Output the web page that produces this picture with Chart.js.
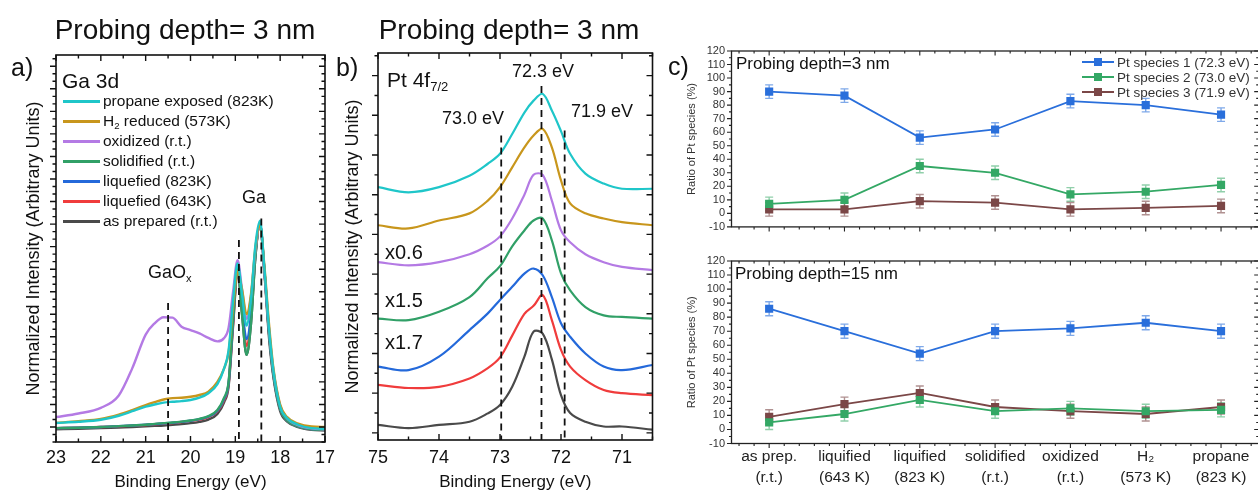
<!DOCTYPE html>
<html>
<head>
<meta charset="utf-8">
<script src="https://cdn.jsdelivr.net/npm/chart.js@4.4.1/dist/chart.umd.min.js"></script>
<style>
html, body { margin: 0; padding: 0; background: #fff; overflow: hidden; width: 1258px; height: 493px;
  font-family: 'Liberation Sans', Arial, sans-serif; color: #111; }
canvas { position: absolute; }
.t { position: absolute; white-space: nowrap; line-height: 1; transform: translateY(-50%); }
.c { transform: translate(-50%, -50%); }
sub { font-size: 62%; vertical-align: -0.35em; line-height: 0; }
.leg { position: absolute; }
.leg .row { display: flex; align-items: center; white-space: nowrap; }
.leg .sw { display: inline-block; position: relative; }
</style>
</head>
<body>
<canvas id="gaChart" width="340" height="493" style="left:0;top:0"></canvas>
<canvas id="ptChart" width="326" height="493" style="left:332px;top:0"></canvas>
<canvas id="ratio3" width="610" height="240" style="left:655px;top:0"></canvas>
<canvas id="ratio15" width="610" height="253" style="left:655px;top:240px"></canvas>

<div class="t c" style="left:185px;top:30px;font-size:28px">Probing depth= 3 nm</div>
<div class="t c" style="left:509px;top:30px;font-size:28px">Probing depth= 3 nm</div>
<div class="t" style="left:11px;top:67px;font-size:25px">a)</div>
<div class="t" style="left:336px;top:67px;font-size:25px">b)</div>
<div class="t" style="left:668px;top:66px;font-size:25px">c)</div>

<div class="t" style="left:62px;top:80px;font-size:21px">Ga 3d</div>
<div class="t c" style="left:254px;top:197px;font-size:18px">Ga</div>
<div class="t" style="left:148px;top:272px;font-size:18px">GaO<sub>x</sub></div>

<div class="t" style="left:387px;top:79px;font-size:21px">Pt 4f<sub>7/2</sub></div>
<div class="t c" style="left:543px;top:71px;font-size:18px">72.3 eV</div>
<div class="t c" style="left:473px;top:118px;font-size:18px">73.0 eV</div>
<div class="t c" style="left:602px;top:111px;font-size:18px">71.9 eV</div>
<div class="t" style="left:385px;top:252px;font-size:20px">x0.6</div>
<div class="t" style="left:385px;top:300px;font-size:20px">x1.5</div>
<div class="t" style="left:385px;top:342px;font-size:20px">x1.7</div>

<div class="t" style="left:736px;top:63px;font-size:17px">Probing depth=3 nm</div>
<div class="t" style="left:735px;top:273px;font-size:17px">Probing depth=15 nm</div>

<div id="legendA" class="leg" style="left:63px;top:91px;font-size:15.5px"></div>
<div id="legendC" class="leg" style="left:1082px;top:54.5px;font-size:13.5px"></div>

<script>
// ---- panel a: Ga 3d spectra (normalized, arbitrary units) ----
const gaEnergy = [23.0, 22.5, 22.0, 21.6, 21.3, 21.0, 20.8, 20.6, 20.4, 20.2, 20.0, 19.8, 19.6, 19.4, 19.25, 19.15,
  19.05, 18.95, 18.85, 18.75, 18.65, 18.55, 18.45, 18.35, 18.25, 18.15, 18.0, 17.85, 17.6, 17.3, 17.0];
const gaPropane = [0.18, 0.23, 0.32, 0.5, 0.7, 0.9, 1.0, 1.08, 1.12, 1.15, 1.2, 1.3, 1.5, 1.9, 2.6, 3.4,
  5.6, 7.25, 5.9, 4.5, 5.7, 8.1, 9.15, 7.0, 4.4, 2.5, 0.9, 0.4, 0.1, -0.05, -0.08];
const gaH2 = [0.18, 0.26, 0.36, 0.55, 0.75, 0.97, 1.1, 1.22, 1.28, 1.3, 1.34, 1.42, 1.57, 2.0, 2.6, 3.3,
  5.3, 6.9, 6.1, 5.0, 5.9, 8.0, 8.95, 7.1, 4.6, 2.6, 1.0, 0.45, 0.15, 0.02, 0.0];
const gaOxidized = [0.44, 0.6, 0.85, 1.4, 2.6, 4.1, 4.6, 4.87, 4.85, 4.45, 4.3, 4.15, 3.95, 3.8, 3.95, 4.4,
  6.0, 7.4, 6.1, 4.8, 5.8, 7.9, 8.95, 6.9, 4.4, 2.5, 0.95, 0.4, 0.08, -0.06, -0.1];
const gaSolidified = [-0.05, -0.03, 0.0, 0.04, 0.07, 0.1, 0.14, 0.17, 0.2, 0.24, 0.29, 0.36, 0.48, 0.75, 1.3, 2.0,
  4.8, 7.1, 5.0, 3.2, 4.6, 7.6, 9.0, 6.9, 4.2, 2.3, 0.8, 0.3, 0.03, -0.1, -0.13];
const gaLiq823 = [-0.05, -0.03, 0.0, 0.04, 0.07, 0.1, 0.13, 0.16, 0.19, 0.23, 0.28, 0.35, 0.46, 0.72, 1.25, 1.95,
  4.7, 7.05, 5.3, 3.9, 5.0, 7.7, 9.0, 6.9, 4.2, 2.3, 0.8, 0.3, 0.03, -0.1, -0.13];
const gaLiq643 = [-0.05, -0.03, 0.0, 0.03, 0.06, 0.09, 0.12, 0.15, 0.18, 0.22, 0.27, 0.33, 0.44, 0.7, 1.2, 1.9,
  4.6, 7.0, 5.2, 3.6, 4.9, 7.7, 9.0, 6.9, 4.2, 2.3, 0.8, 0.3, 0.03, -0.1, -0.13];
const gaAsPrep = [-0.1, -0.08, -0.05, -0.02, 0.0, 0.03, 0.05, 0.07, 0.1, 0.13, 0.17, 0.23, 0.33, 0.58, 1.1, 1.8,
  4.5, 6.9, 5.0, 3.2, 4.6, 7.6, 9.0, 6.8, 4.0, 2.2, 0.7, 0.25, 0.0, -0.12, -0.15];
const gaMarkers = [20.5, 18.92, 18.42];
const gaMarkerTops = [5.5, 8.3, 9.25];

// ---- panel b: Pt 4f7/2 spectra (stacked) ----
const ptEnergy = [75, 74.5, 74.0, 73.5, 73.2, 73.0, 72.8, 72.6, 72.45, 72.3, 72.15, 72.0, 71.85, 71.6, 71.3, 71.0, 70.5];
const ptPropane = [6.19, 6.06, 6.19, 6.48, 6.78, 7.03, 7.53, 8.07, 8.37, 8.54, 8.12, 7.6, 7.03, 6.53, 6.28, 6.15, 6.15];
const ptH2 = [5.23, 5.15, 5.35, 5.53, 5.85, 6.19, 6.69, 7.19, 7.49, 7.66, 7.19, 6.36, 5.78, 5.53, 5.4, 5.31, 5.23];
const ptOxidized = [4.3, 4.22, 4.3, 4.5, 4.72, 4.95, 5.4, 6.0, 6.5, 6.5, 5.85, 5.1, 4.8, 4.5, 4.3, 4.18, 4.1];
const ptSolidified = [2.88, 2.84, 3.05, 3.42, 3.9, 4.2, 4.7, 5.1, 5.35, 5.4, 4.85, 4.02, 3.59, 3.17, 2.96, 2.92, 2.88];
const ptLiq823 = [1.67, 1.58, 1.92, 2.59, 3.01, 3.35, 3.68, 4.01, 4.14, 3.97, 3.42, 2.76, 2.42, 2.0, 1.67, 1.58, 1.71];
const ptLiq643 = [1.21, 1.13, 1.16, 1.37, 1.63, 1.9, 2.45, 3.0, 3.2, 3.47, 2.84, 2.09, 1.67, 1.33, 1.08, 1.0, 0.95];
const ptAsPrep = [0.2, 0.12, 0.2, 0.28, 0.49, 0.7, 1.16, 1.92, 2.55, 2.5, 1.85, 0.95, 0.5, 0.28, 0.16, 0.16, 0.08];
const ptMarkers = [72.98, 72.32, 71.94];
const ptMarkerTops = [7.49, 8.74, 7.62];

// ---- panel c: ratio of Pt species (%) ----
const conditions = [['as prep.', '(r.t.)'], ['liquified', '(643 K)'], ['liquified', '(823 K)'], ['solidified', '(r.t.)'],
  ['oxidized', '(r.t.)'], ['H\u2082', '(573 K)'], ['propane', '(823 K)']];
const speciesNames = ['Pt species 1 (72.3 eV)', 'Pt species 2 (73.0 eV)', 'Pt species 3 (71.9 eV)'];
const species1_3nm = [90, 87, 56, 62, 83, 80, 73];
const species2_3nm = [7, 10, 35, 30, 14, 16, 21];
const species3_3nm = [3, 3, 9, 8, 3, 4, 5.5];
const species1_15nm = [86, 70, 54, 70, 72, 76, 70];
const species2_15nm = [5, 11, 21, 13, 15, 13, 14];
const species3_15nm = [9, 18, 26, 16, 13, 11, 16];
const ratioError = [5, 5, 5, 5, 5, 5, 5];

const seriesNames = ['propane exposed (823K)', 'H<sub>2</sub> reduced (573K)', 'oxidized (r.t.)', 'solidified (r.t.)',
  'liquefied (823K)', 'liquefied (643K)', 'as prepared (r.t.)'];
const seriesColors = ['#1fc6c9', '#c8961c', '#b47ae4', '#31a067', '#2469da', '#f03c3c', '#4a4a4a'];
const speciesColors = ['#2a6fdb', '#34a865', '#7b4747'];
const speciesErrColors = ['rgba(42,111,219,0.6)', 'rgba(52,168,101,0.55)', 'rgba(123,71,71,0.6)'];

Chart.defaults.font.family = "'Liberation Sans', Arial, sans-serif";
Chart.defaults.color = '#111';

// tick marks (major + minor) drawn round the plot frame
function tickMarks(scale, minor, area) {
  const major = scale.ticks.map(t => t.value);
  const sub = (major[1] - major[0]) / (minor + 1);
  const horiz = scale.isHorizontal();
  const out = [];
  for (let k = -60; k < 600; k++) {
    const p = scale.getPixelForValue(major[0] + k * sub);
    const inside = horiz ? (p >= area.left - 0.5 && p <= area.right + 0.5) : (p >= area.top - 0.5 && p <= area.bottom + 0.5);
    if (inside) out.push({ p, major: ((k % (minor + 1)) + (minor + 1)) % (minor + 1) === 0 });
  }
  return out;
}

const framePlugin = {
  id: 'frame',
  afterDraw(chart, args, o) {
    const { ctx, chartArea: a } = chart;
    ctx.save();
    ctx.strokeStyle = o.color;
    ctx.lineWidth = o.lineWidth;
    ctx.strokeRect(a.left, a.top, a.right - a.left, a.bottom - a.top);
    ctx.lineWidth = o.tickWidth;
    const draw = (scale, minor, side) => {
      const dir = o.sides[side];
      if (!dir) return;
      const s = dir === 'in' ? 1 : -1;
      ctx.beginPath();
      tickMarks(scale, minor, a).forEach(m => {
        const len = s * (m.major ? o.major : o.minor);
        if (side === 'bottom') { ctx.moveTo(m.p, a.bottom); ctx.lineTo(m.p, a.bottom - len); }
        if (side === 'top') { ctx.moveTo(m.p, a.top); ctx.lineTo(m.p, a.top + len); }
        if (side === 'left') { ctx.moveTo(a.left, m.p); ctx.lineTo(a.left + len, m.p); }
        if (side === 'right') { ctx.moveTo(a.right, m.p); ctx.lineTo(a.right - len, m.p); }
      });
      ctx.stroke();
    };
    draw(chart.scales.x, o.xMinor, 'bottom');
    draw(chart.scales.x, o.xMinor, 'top');
    draw(chart.scales.y, o.yMinor, 'left');
    draw(chart.scales.y, o.yMinor, 'right');
    ctx.restore();
  }
};

const errorBarPlugin = {
  id: 'errorBars',
  beforeDatasetsDraw(chart) {
    const { ctx } = chart;
    const y = chart.scales.y;
    chart.data.datasets.forEach((ds, i) => {
      if (!ds.errors) return;
      const meta = chart.getDatasetMeta(i);
      ctx.save();
      ctx.strokeStyle = ds.errorColor;
      ctx.lineWidth = 1.4;
      ctx.beginPath();
      meta.data.forEach((pt, j) => {
        const hi = y.getPixelForValue(ds.data[j] + ds.errors[j]);
        const lo = y.getPixelForValue(ds.data[j] - ds.errors[j]);
        ctx.moveTo(pt.x, hi); ctx.lineTo(pt.x, lo);
        ctx.moveTo(pt.x - 4, hi); ctx.lineTo(pt.x + 4, hi);
        ctx.moveTo(pt.x - 4, lo); ctx.lineTo(pt.x + 4, lo);
      });
      ctx.stroke();
      ctx.restore();
    });
  }
};

function xy(xs, ys) {
  return xs.map((x, i) => ({ x: x, y: ys[i] }));
}

function dashed(energies, tops, bottom) {
  return energies.map((e, i) => ({
    data: [{ x: e, y: tops[i] }, { x: e, y: bottom }],
    borderColor: '#111', borderWidth: 1.8, borderDash: [7, 5], pointRadius: 0, tension: 0
  }));
}

function spectrumChart(id, energy, series, markers, tops, opts) {
  const datasets = dashed(markers, tops, opts.yMin).concat(series.map((s, i) => ({
    label: seriesNames[i].replace(/<\/?sub>/g, ''),
    data: xy(energy, s),
    borderColor: seriesColors[i],
    borderWidth: opts.lineWidth,
    pointRadius: 0,
    tension: opts.tension,
    cubicInterpolationMode: opts.mode
  })));
  return new Chart(document.getElementById(id), {
    type: 'line',
    data: { datasets },
    plugins: [framePlugin],
    options: {
      responsive: false,
      animation: false,
      layout: { padding: { left: 0, top: opts.top, right: opts.right, bottom: 0 } },
      plugins: {
        legend: { display: false },
        tooltip: { enabled: false },
        frame: { color: '#111', lineWidth: 1.6, tickWidth: 1.4, major: 6, minor: 3.5, xMinor: 1, yMinor: opts.yMinor,
          sides: { left: 'out', right: 'in', top: 'in', bottom: 'in' } }
      },
      scales: {
        x: {
          type: 'linear', reverse: true, min: opts.xMin, max: opts.xMax,
          grid: { display: false, drawTicks: false }, border: { display: false },
          ticks: { stepSize: 1, includeBounds: false, padding: opts.xPad, font: { size: 18 }, color: '#111' },
          title: { display: true, text: 'Binding Energy (eV)', font: { size: 17 }, padding: 0, color: '#111' },
          afterFit: s => { s.height = opts.xHeight; }
        },
        y: {
          min: opts.yMin, max: opts.yMax,
          grid: { display: false, drawTicks: false }, border: { display: false },
          ticks: { display: false, stepSize: 1, includeBounds: false },
          title: { display: true, text: 'Normalized Intensity (Arbitrary Units)', font: { size: 18 },
            padding: { top: opts.yTitlePad, bottom: 0 }, color: '#111' },
          afterFit: s => { s.width = opts.yWidth; }
        }
      }
    }
  });
}

spectrumChart('gaChart', gaEnergy,
  [gaPropane, gaH2, gaOxidized, gaSolidified, gaLiq823, gaLiq643, gaAsPrep], gaMarkers, gaMarkerTops,
  { top: 55, right: 13, xMin: 17, xMax: 23, yMin: -0.665, yMax: 16.5, yMinor: 2, lineWidth: 2.4,
    xPad: 5, xHeight: 51, yWidth: 56, yTitlePad: 23, tension: 0, mode: 'monotone' });

spectrumChart('ptChart', ptEnergy,
  [ptPropane, ptH2, ptOxidized, ptSolidified, ptLiq823, ptLiq643, ptAsPrep], ptMarkers, ptMarkerTops,
  { top: 53, right: 5.5, xMin: 70.5, xMax: 75, yMin: -0.18, yMax: 9.57, yMinor: 1, lineWidth: 2.2,
    xPad: 7.5, xHeight: 53, yWidth: 46, yTitlePad: 10, tension: 0.35, mode: 'default' });

function ratioChart(id, values, opts) {
  const datasets = values.map((v, i) => ({
    label: speciesNames[i],
    data: v,
    errors: ratioError,
    errorColor: speciesErrColors[i],
    borderColor: speciesColors[i],
    backgroundColor: speciesColors[i],
    borderWidth: 1.8,
    pointStyle: 'rect',
    pointRadius: 4.5,
    tension: 0
  }));
  return new Chart(document.getElementById(id), {
    type: 'line',
    data: { labels: conditions, datasets },
    plugins: [errorBarPlugin, framePlugin],
    options: {
      responsive: false,
      animation: false,
      layout: { padding: { left: 0, top: opts.top, right: 5.7, bottom: 0 } },
      plugins: {
        legend: { display: false },
        tooltip: { enabled: false },
        frame: { color: '#222', lineWidth: 1.3, tickWidth: 1.1, major: 4.5, minor: 2.5, xMinor: 4, yMinor: 1,
          sides: { left: 'out', right: 'in', top: 'in', bottom: 'out' } }
      },
      scales: {
        x: {
          type: 'category', offset: true,
          grid: { display: false, drawTicks: false }, border: { display: false },
          ticks: { display: opts.showLabels, autoSkip: false, maxRotation: 0, padding: 3.5,
            font: { size: 15.5, lineHeight: 1.3 }, color: '#222' },
          afterFit: s => { s.height = opts.xHeight; }
        },
        y: {
          min: -10, max: 120,
          grid: { display: false, drawTicks: false }, border: { display: false },
          ticks: { stepSize: 10, autoSkip: false, padding: 6.5, font: { size: 11 }, color: '#333' },
          title: { display: true, text: 'Ratio of Pt species (%)', font: { size: 11 }, padding: { top: 30.4, bottom: 0 }, color: '#333' },
          afterFit: s => { s.width = 76.5; }
        }
      }
    }
  });
}

const chart3 = ratioChart('ratio3', [species1_3nm, species2_3nm, species3_3nm], { top: 51, xHeight: 6.5, showLabels: false });
ratioChart('ratio15', [species1_15nm, species2_15nm, species3_15nm], { top: 21, xHeight: 49.5, showLabels: true });

// html legends built from the series
const legA = document.getElementById('legendA');
seriesNames.forEach((name, i) => {
  const row = document.createElement('div');
  row.className = 'row';
  row.style.height = '20px';
  row.innerHTML = '<span class="sw" style="width:37px;height:3px;margin-right:3px;background:' + seriesColors[i] + '"></span><span>' + name + '</span>';
  legA.appendChild(row);
});

const legC = document.getElementById('legendC');
chart3.data.datasets.forEach(ds => {
  const row = document.createElement('div');
  row.className = 'row';
  row.style.height = '15px';
  row.innerHTML = '<span class="sw" style="width:32px;height:2px;margin-right:3px;background:' + ds.borderColor + '">' +
    '<span style="position:absolute;left:12px;top:-3px;width:8px;height:8px;background:' + ds.borderColor + '"></span></span>' +
    '<span style="color:#333">' + ds.label + '</span>';
  legC.appendChild(row);
});
</script>
</body>
</html>
